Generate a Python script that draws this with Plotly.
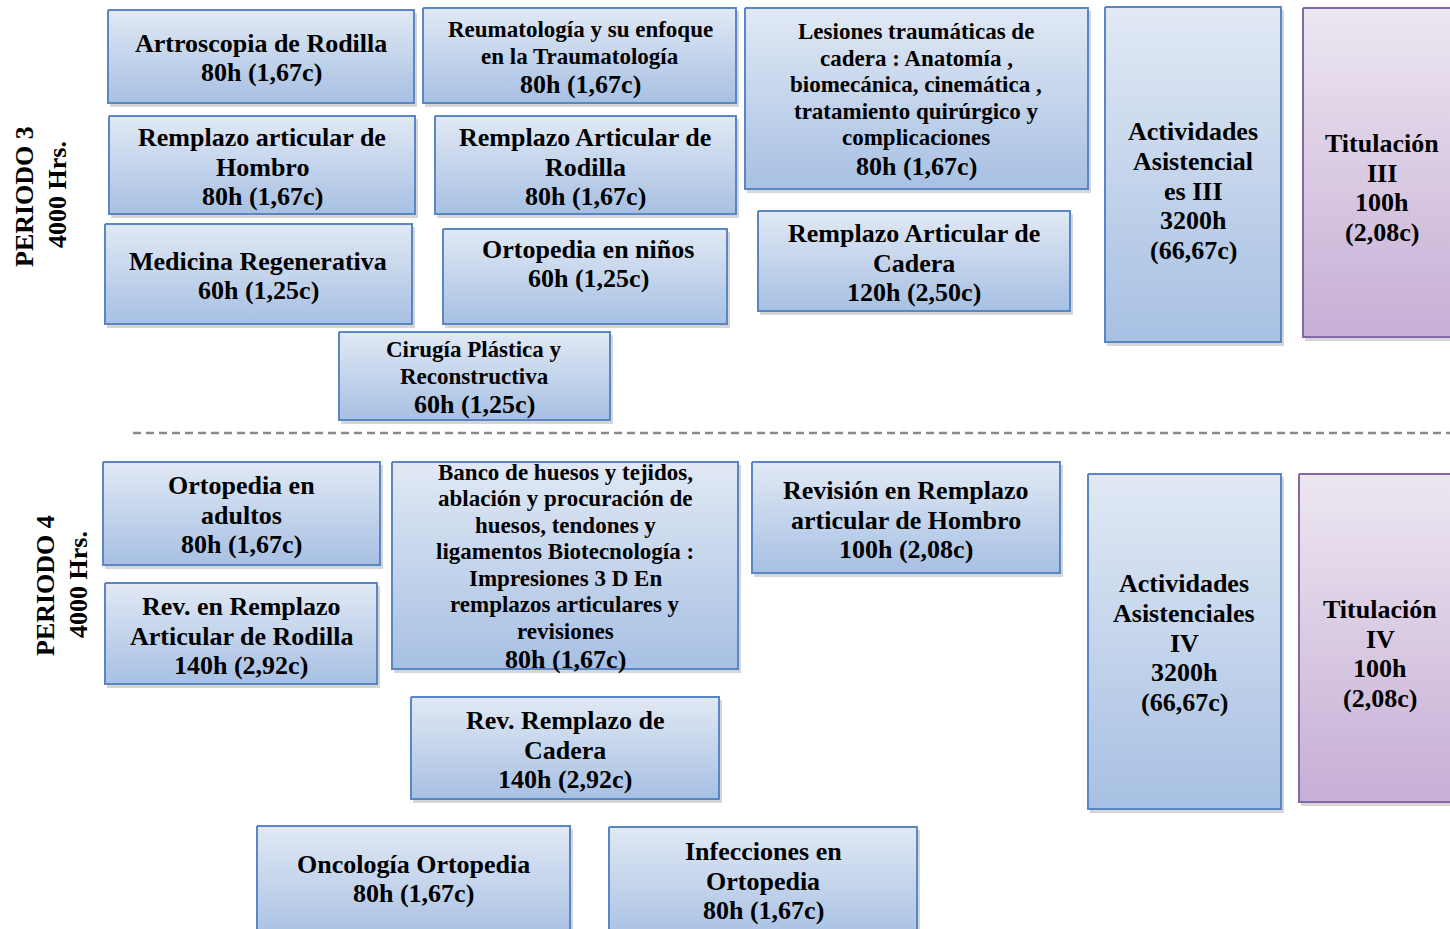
import plotly.graph_objects as go

# ---------------- data ----------------
titles = [
    "Artroscopia de Rodilla",
    "Reumatología y su enfoque<br>en la Traumatología",
    "Lesiones traumáticas de<br>cadera : Anatomía ,<br>biomecánica, cinemática ,<br>tratamiento quirúrgico y<br>complicaciones",
    "Actividades<br>Asistencial<br>es III",
    "Titulación<br>III",
    "Remplazo articular de<br>Hombro",
    "Remplazo Articular de<br>Rodilla",
    "Medicina Regenerativa",
    "Ortopedia en niños",
    "Remplazo Articular de<br>Cadera",
    "Cirugía Plástica y<br>Reconstructiva",
    "Ortopedia en<br>adultos",
    "Banco de huesos y tejidos,<br>ablación y procuración de<br>huesos, tendones y<br>ligamentos Biotecnología :<br>Impresiones 3 D En<br>remplazos articulares y<br>revisiones",
    "Revisión en Remplazo<br>articular de Hombro",
    "Actividades<br>Asistenciales<br>IV",
    "Titulación<br>IV",
    "Rev. en Remplazo<br>Articular de Rodilla",
    "Rev. Remplazo de<br>Cadera",
    "Oncología Ortopedia",
    "Infecciones en<br>Ortopedia",
]
hours = [80, 80, 80, 3200, 100, 80, 80, 60, 60, 120, 60,
         80, 80, 100, 3200, 100, 140, 140, 80, 80]
credits = ["1,67", "1,67", "1,67", "66,67", "2,08", "1,67", "1,67", "1,25", "1,25", "2,50", "1,25",
           "1,67", "1,67", "2,08", "66,67", "2,08", "2,92", "2,92", "1,67", "1,67"]
period_labels = [["PERIODO 3", "4000 Hrs."], ["PERIODO 4", "4000 Hrs."]]

# ---------------- layout (positions / styles) ----------------
# x0, y0, x1, y1, text-x, text-center-y, small-title, split-hours, purple
boxes = [
    (108, 10, 414, 103, 261, 58, False, False, False),
    (423, 8, 736, 103, 580, 57, True, False, False),
    (745, 8, 1088, 189, 916, 99, True, False, False),
    (1105, 7, 1281, 342, 1193, 191, False, True, False),
    (1303, 8, 1462, 337, 1382, 188, False, True, True),
    (109, 116, 415, 214, 262, 167, False, False, False),
    (435, 116, 736, 214, 585, 167, False, False, False),
    (105, 224, 412, 324, 258, 276, False, False, False),
    (443, 229, 727, 324, 588, 264, False, False, False),
    (758, 211, 1070, 311, 914, 263, False, False, False),
    (339, 332, 610, 420, 474, 377, True, False, False),
    (103, 462, 380, 565, 241, 515, False, False, False),
    (392, 462, 738, 669, 565, 566, True, False, False),
    (752, 462, 1060, 573, 906, 520, False, False, False),
    (1088, 474, 1281, 809, 1184, 643, False, True, False),
    (1299, 474, 1462, 802, 1380, 654, False, True, True),
    (105, 583, 377, 684, 241, 636, False, False, False),
    (411, 697, 719, 799, 565, 750, False, False, False),
    (257, 826, 570, 940, 413, 879, False, False, False),
    (609, 827, 917, 940, 763, 881, False, False, False),
]
# period label line positions: (x, y) for each line
period_pos = [[(24, 197), (57, 195)], [(45, 586), (78, 585)]]

FONT = "Liberation Serif"
BIG = 26
SMALL = 23
LH_BIG = 29.8
LH_SMALL = 26.5
LH_MIX = 28.5
BLUE_TOP, BLUE_BOT, BLUE_LINE = "#e1e9f4", "#a7c0e3", "#5a87c3"
PUR_TOP, PUR_BOT, PUR_LINE = "#ede7f1", "#c6aed5", "#8467a6"

fig = go.Figure()
shapes = []
annotations = []


def add_line(x, y, text, size, angle=0):
    annotations.append(dict(x=x, y=y, xref="x", yref="y", text=f"<b>{text}</b>",
                            showarrow=False, align="center", textangle=angle,
                            font=dict(family=FONT, size=size, color="#000000"),
                            xanchor="center", yanchor="middle"))


for i, (x0, y0, x1, y1, tx, ty, small, split, purple) in enumerate(boxes):
    top, bot, lc = (PUR_TOP, PUR_BOT, PUR_LINE) if purple else (BLUE_TOP, BLUE_BOT, BLUE_LINE)
    shapes.append(dict(type="rect", xref="x", yref="y", x0=x0 + 2, y0=y0 + 3, x1=x1 + 3, y1=y1 + 4,
                       line=dict(width=0), fillcolor="rgba(0,0,0,0.16)", layer="below"))
    fig.add_trace(go.Scatter(
        x=[x0, x1, x1, x0, x0], y=[y0, y0, y1, y1, y0],
        mode="lines", fill="toself",
        fillgradient=dict(type="vertical", colorscale=[[0, bot], [1, top]]),
        line=dict(color=lc, width=2),
        hoverinfo="skip", showlegend=False,
    ))
    title_lines = titles[i].split("<br>")
    if split:
        hc_lines = [f"{hours[i]}h", f"({credits[i]}c)"]
    else:
        hc_lines = [f"{hours[i]}h ({credits[i]}c)"]
    lines = []
    for k, t in enumerate(title_lines):
        lines.append((t, SMALL if small else BIG, 0 if k == 0 else (LH_SMALL if small else LH_BIG)))
    for k, t in enumerate(hc_lines):
        gap = (LH_MIX if small else LH_BIG) if k == 0 else LH_BIG
        lines.append((t, BIG, gap))
    total = sum(g for _, _, g in lines)
    y = ty - total / 2
    for t, s, g in lines:
        y += g
        add_line(tx, y, t, s)

for lab, pos in zip(period_labels, period_pos):
    for t, (px, py) in zip(lab, pos):
        add_line(px, py, t, BIG, angle=-90)

# dashed separator
fig.add_trace(go.Scatter(x=[133, 1450], y=[433, 433], mode="lines",
                         line=dict(color="#8a8a8a", width=2.5, dash="8px,5px"),
                         hoverinfo="skip", showlegend=False))

fig.update_layout(
    width=1450, height=929,
    margin=dict(l=0, r=0, t=0, b=0),
    paper_bgcolor="white", plot_bgcolor="white",
    xaxis=dict(range=[0, 1450], visible=False, fixedrange=True),
    yaxis=dict(range=[929, 0], visible=False, fixedrange=True),
    shapes=shapes, annotations=annotations,
    showlegend=False,
)

fig.write_html("out.html", config={"displayModeBar": False},
               post_script="document.body.style.margin='0';document.body.style.overflow='hidden';")
